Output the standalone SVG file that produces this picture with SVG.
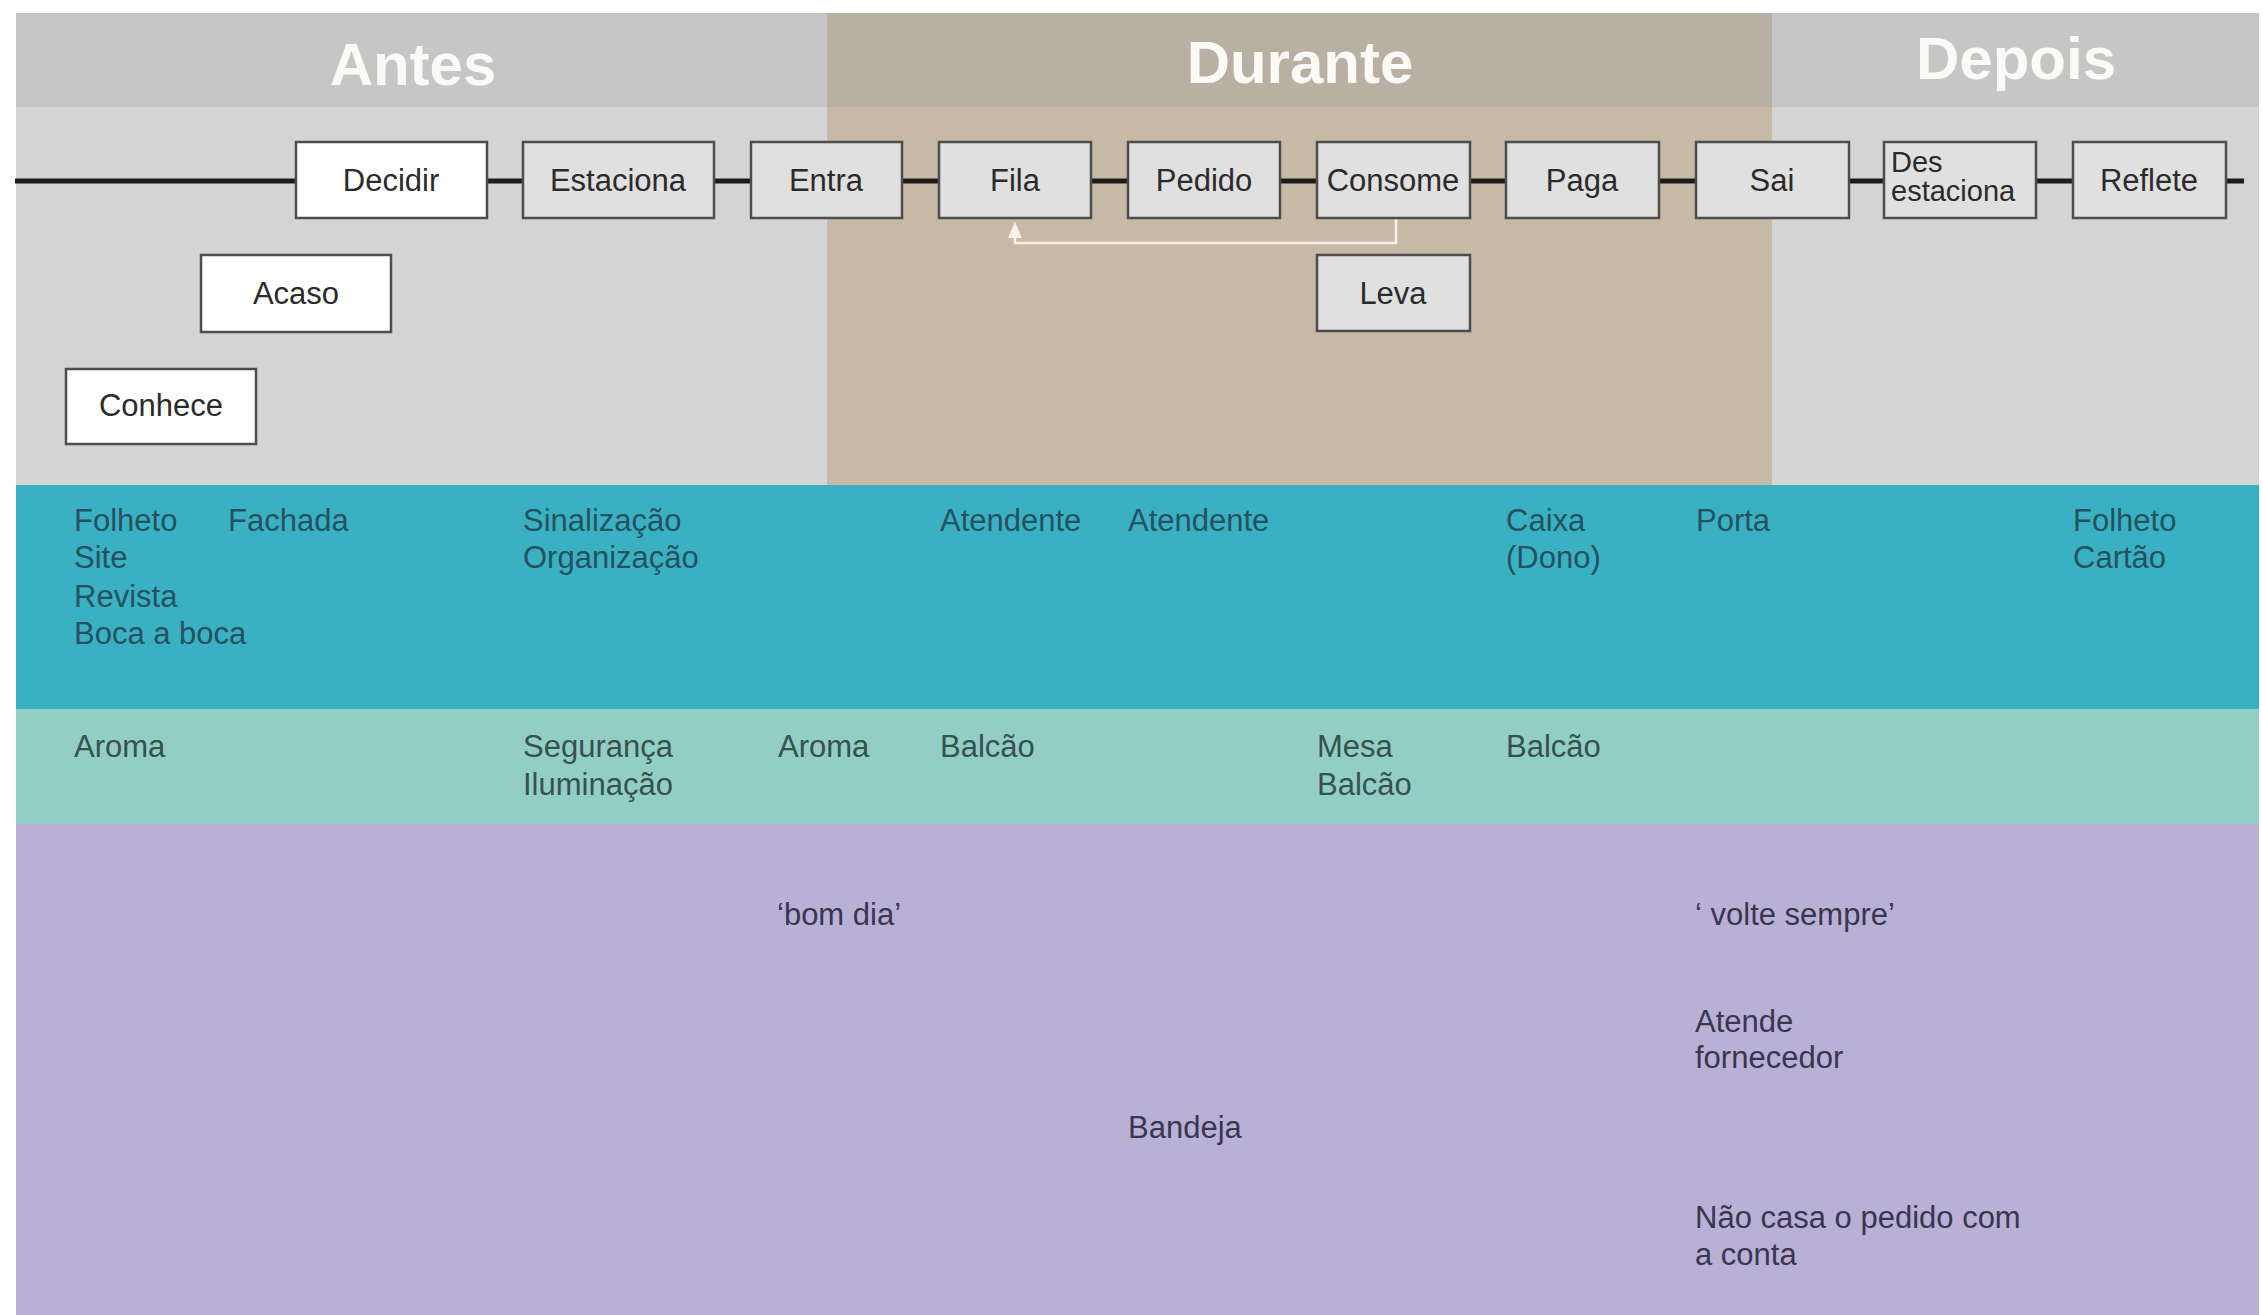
<svg xmlns="http://www.w3.org/2000/svg" width="2263" height="1315" viewBox="0 0 2263 1315">
<defs>
<marker id="arr" markerWidth="16" markerHeight="14" refX="2" refY="7" orient="auto" markerUnits="userSpaceOnUse" viewBox="0 0 16 14">
<path d="M0 0 L16 7 L0 14 Z" fill="#f6f2e8"/>
</marker>
<style>
.box{stroke:#4d4d4d;stroke-width:2.5}
.w{fill:#ffffff}
.g{fill:#e0e0e0}
.lbl{font-family:"Liberation Sans",Arial,sans-serif;font-size:31px;fill:#2b2b2b;text-anchor:middle}
.lbl2{font-family:"Liberation Sans",Arial,sans-serif;font-size:29px;fill:#2b2b2b}
.hdr{font-family:"Liberation Sans",Arial,sans-serif;font-size:60px;font-weight:bold;fill:#fbfaf6;text-anchor:middle}
.t1{font-family:"Liberation Sans",Arial,sans-serif;font-size:31px;fill:#24525e}
.t2{font-family:"Liberation Sans",Arial,sans-serif;font-size:31px;fill:#35524f}
.t3{font-family:"Liberation Sans",Arial,sans-serif;font-size:31px;fill:#3a3550}
</style>
</defs>
<rect width="2263" height="1315" fill="#ffffff"/>
<g id="bands">
<rect x="16" y="13" width="811" height="94" fill="#c6c6c6"/>
<rect x="16" y="107" width="811" height="378" fill="#d4d4d4"/>
<rect x="827" y="13" width="945" height="94" fill="#b9b0a4"/>
<rect x="827" y="107" width="945" height="378" fill="#c6baa7"/>
<rect x="1772" y="13" width="487" height="94" fill="#c6c6c6"/>
<rect x="1772" y="107" width="487" height="378" fill="#d4d4d4"/>
<rect x="16" y="485" width="2243" height="224" fill="#3ab0c3"/>
<rect x="16" y="709" width="2243" height="115" fill="#93cec5"/>
<rect x="16" y="824" width="2243" height="491" fill="#b8b1d5"/>
<text class="hdr" x="413" y="85">Antes</text>
<text class="hdr" x="1300" y="83">Durante</text>
<text class="hdr" x="2016" y="79">Depois</text>
</g>
<g id="connectors">
<line x1="15" y1="181" x2="2244" y2="181" stroke="#1e1c1a" stroke-width="5"/>
<path d="M1396 218 V243 H1015 V236" fill="none" stroke="#f6f2e8" stroke-width="2.5" marker-end="url(#arr)"/>
</g>
<g id="node-decidir"><rect class="box w" x="296" y="142" width="191" height="76"/><text class="lbl" x="391" y="191">Decidir</text></g>
<g id="node-estaciona"><rect class="box g" x="523" y="142" width="191" height="76"/><text class="lbl" x="618" y="191">Estaciona</text></g>
<g id="node-entra"><rect class="box g" x="751" y="142" width="151" height="76"/><text class="lbl" x="826" y="191">Entra</text></g>
<g id="node-fila"><rect class="box g" x="939" y="142" width="152" height="76"/><text class="lbl" x="1015" y="191">Fila</text></g>
<g id="node-pedido"><rect class="box g" x="1128" y="142" width="152" height="76"/><text class="lbl" x="1204" y="191">Pedido</text></g>
<g id="node-consome"><rect class="box g" x="1317" y="142" width="153" height="76"/><text class="lbl" x="1393" y="191">Consome</text></g>
<g id="node-paga"><rect class="box g" x="1506" y="142" width="153" height="76"/><text class="lbl" x="1582" y="191">Paga</text></g>
<g id="node-sai"><rect class="box g" x="1696" y="142" width="153" height="76"/><text class="lbl" x="1772" y="191">Sai</text></g>
<g id="node-desestaciona"><rect class="box g" x="1884" y="142" width="152" height="76"/><text class="lbl2" x="1891" y="172">Des</text><text class="lbl2" x="1891" y="201">estaciona</text></g>
<g id="node-reflete"><rect class="box g" x="2073" y="142" width="153" height="76"/><text class="lbl" x="2149" y="191">Reflete</text></g>
<g id="node-leva"><rect class="box g" x="1317" y="255" width="153" height="76"/><text class="lbl" x="1393" y="304">Leva</text></g>
<g id="node-acaso"><rect class="box w" x="201" y="255" width="190" height="77"/><text class="lbl" x="296" y="304">Acaso</text></g>
<g id="node-conhece"><rect class="box w" x="66" y="369" width="190" height="75"/><text class="lbl" x="161" y="416">Conhece</text></g>
<g id="row-blue">
<text class="t1" x="74" y="531">Folheto</text>
<text class="t1" x="74" y="568">Site</text>
<text class="t1" x="74" y="607">Revista</text>
<text class="t1" x="74" y="644">Boca a boca</text>
<text class="t1" x="228" y="531">Fachada</text>
<text class="t1" x="523" y="531">Sinalização</text>
<text class="t1" x="523" y="568">Organização</text>
<text class="t1" x="940" y="531">Atendente</text>
<text class="t1" x="1128" y="531">Atendente</text>
<text class="t1" x="1506" y="531">Caixa</text>
<text class="t1" x="1506" y="568">(Dono)</text>
<text class="t1" x="1696" y="531">Porta</text>
<text class="t1" x="2073" y="531">Folheto</text>
<text class="t1" x="2073" y="568">Cartão</text>
</g>
<g id="row-teal">
<text class="t2" x="74" y="757">Aroma</text>
<text class="t2" x="523" y="757">Segurança</text>
<text class="t2" x="523" y="795">Iluminação</text>
<text class="t2" x="778" y="757">Aroma</text>
<text class="t2" x="940" y="757">Balcão</text>
<text class="t2" x="1317" y="757">Mesa</text>
<text class="t2" x="1317" y="795">Balcão</text>
<text class="t2" x="1506" y="757">Balcão</text>
</g>
<g id="row-purple">
<text class="t3" x="777" y="925">‘bom dia’</text>
<text class="t3" x="1128" y="1138">Bandeja</text>
<text class="t3" x="1695" y="925">‘ volte sempre’</text>
<text class="t3" x="1695" y="1032">Atende</text>
<text class="t3" x="1695" y="1068">fornecedor</text>
<text class="t3" x="1695" y="1228">Não casa o pedido com</text>
<text class="t3" x="1695" y="1265">a conta</text>
</g>
</svg>
